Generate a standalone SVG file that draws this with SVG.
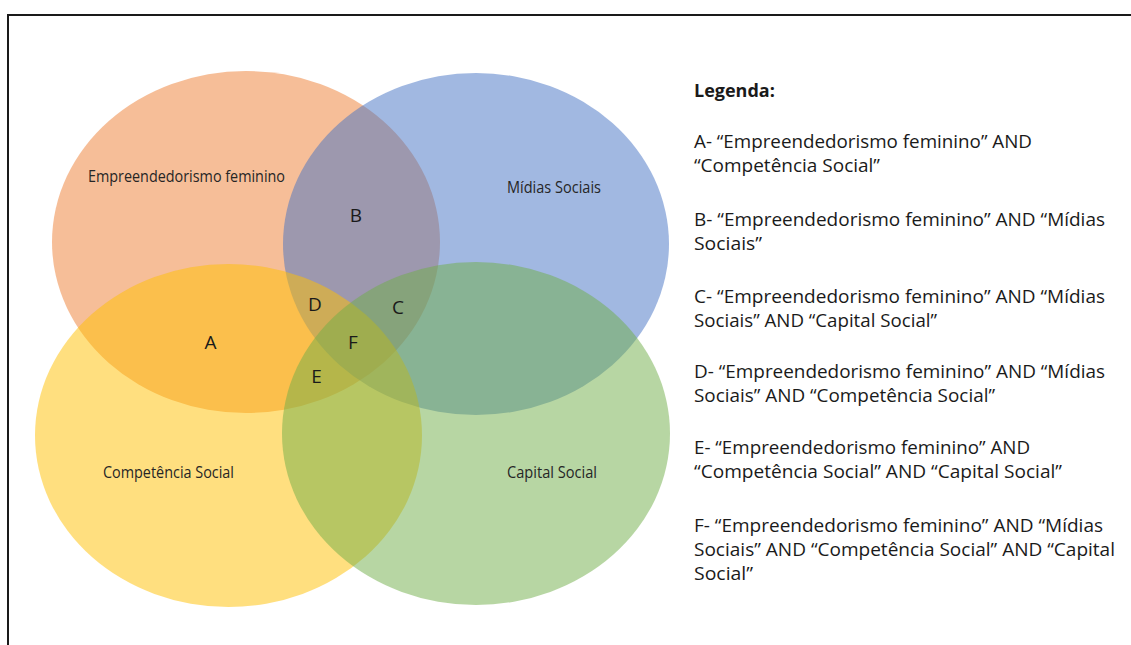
<svg xmlns="http://www.w3.org/2000/svg" width="1131" height="645" viewBox="0 0 1131 645">
<style>
.set{fill-opacity:0.5;stroke:none}
.lbl{font-family:"Open Sans","Liberation Sans",sans-serif;font-size:15.5px;fill:#262626}
.let{font-family:"Open Sans","Liberation Sans",sans-serif;font-size:19px;fill:#1a1a1a}
.leg{font-family:"Open Sans","Liberation Sans",sans-serif;font-size:18px;fill:#1a1a1a}
.legh{font-family:"Open Sans","Liberation Sans",sans-serif;font-size:18px;font-weight:bold;fill:#1a1a1a}
</style>
<rect width="1131" height="645" fill="#ffffff"/>
<path d="M8,645 V15 H1131" fill="none" stroke="#1a1a1a" stroke-width="2"/>
<g id="connectors"></g>
<g id="empreendedorismo">
<ellipse class="set" cx="246" cy="242" rx="194" ry="171" fill="#ED7D31"/>
<text class="lbl" x="88" y="182" textLength="197" lengthAdjust="spacingAndGlyphs">Empreendedorismo feminino</text>
</g>
<g id="midias">
<ellipse class="set" cx="476" cy="244" rx="193" ry="171" fill="#4472C4"/>
<text class="lbl" x="507" y="193" textLength="94" lengthAdjust="spacingAndGlyphs">Mídias Sociais</text>
</g>
<g id="competencia">
<ellipse class="set" cx="228.5" cy="435.5" rx="193.5" ry="171.5" fill="#FFC000"/>
<text class="lbl" x="103" y="478" textLength="131" lengthAdjust="spacingAndGlyphs">Competência Social</text>
</g>
<g id="capital">
<ellipse class="set" cx="476" cy="433.5" rx="194" ry="171.5" fill="#70AD47"/>
<text class="lbl" x="507" y="478" textLength="90" lengthAdjust="spacingAndGlyphs">Capital Social</text>
</g>
<g id="regions">
<text class="let" x="210.5" y="349" text-anchor="middle">A</text>
<text class="let" x="356" y="222" text-anchor="middle">B</text>
<text class="let" x="398" y="314" text-anchor="middle">C</text>
<text class="let" x="315" y="311" text-anchor="middle">D</text>
<text class="let" x="316.5" y="383" text-anchor="middle">E</text>
<text class="let" x="353" y="349" text-anchor="middle">F</text>
</g>
<g id="legenda">
<text class="legh" x="694" y="97">Legenda:</text>
<text class="leg" x="694" y="148" textLength="338" lengthAdjust="spacingAndGlyphs">A- “Empreendedorismo feminino” AND</text>
<text class="leg" x="694" y="172" textLength="186" lengthAdjust="spacingAndGlyphs">“Competência Social”</text>
<text class="leg" x="694" y="226" textLength="411" lengthAdjust="spacingAndGlyphs">B- “Empreendedorismo feminino” AND “Mídias</text>
<text class="leg" x="694" y="250" textLength="68" lengthAdjust="spacingAndGlyphs">Sociais”</text>
<text class="leg" x="694" y="303" textLength="411" lengthAdjust="spacingAndGlyphs">C- “Empreendedorismo feminino” AND “Mídias</text>
<text class="leg" x="694" y="327" textLength="243" lengthAdjust="spacingAndGlyphs">Sociais” AND “Capital Social”</text>
<text class="leg" x="694" y="378" textLength="411" lengthAdjust="spacingAndGlyphs">D- “Empreendedorismo feminino” AND “Mídias</text>
<text class="leg" x="694" y="402" textLength="301" lengthAdjust="spacingAndGlyphs">Sociais” AND “Competência Social”</text>
<text class="leg" x="694" y="454" textLength="336" lengthAdjust="spacingAndGlyphs">E- “Empreendedorismo feminino” AND</text>
<text class="leg" x="694" y="478" textLength="368" lengthAdjust="spacingAndGlyphs">“Competência Social” AND “Capital Social”</text>
<text class="leg" x="694" y="532" textLength="409" lengthAdjust="spacingAndGlyphs">F- “Empreendedorismo feminino” AND “Mídias</text>
<text class="leg" x="694" y="556" textLength="421" lengthAdjust="spacingAndGlyphs">Sociais” AND “Competência Social” AND “Capital</text>
<text class="leg" x="694" y="580" textLength="59" lengthAdjust="spacingAndGlyphs">Social”</text>
</g>
</svg>
